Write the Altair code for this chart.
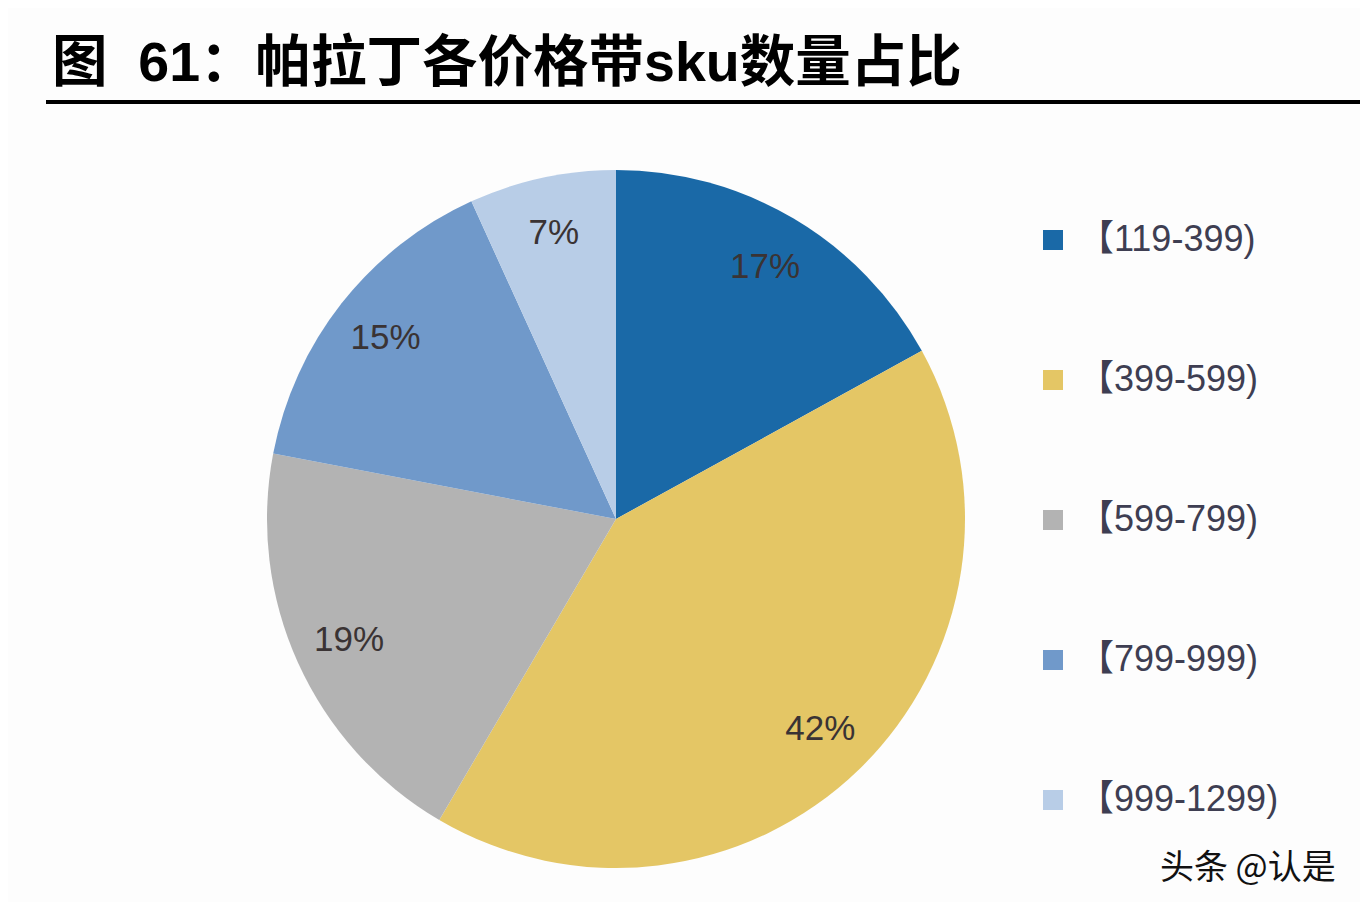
import pandas as pd
import altair as alt

# DATA
# ----
bands = ["【119-399)", "【399-599)", "【599-799)", "【799-999)", "【999-1299)"]
shares = [17.0, 41.45, 19.55, 15.2, 6.8]
share_labels = ["17%", "42%", "19%", "15%", "7%"]
band_colors = ["#1A69A7", "#E4C665", "#B3B3B3", "#7099CA", "#B8CDE7"]

title_text = ["图\u00a0\u00a061：帕拉丁各价格带sku数量占比"]
watermark_text = ["头条 @认是"]

pie_df = pd.DataFrame({
    "band": bands,
    "share": shares,
    "label": share_labels,
    "idx": list(range(len(bands))),
})

# PIE
# ---
cx, cy = 608, 511

base = alt.Chart(pie_df).encode(
    theta=alt.Theta("share:Q", stack=True),
    order=alt.Order("idx:Q"),
)

arcs = base.mark_arc(outerRadius=349, stroke=None).encode(
    x=alt.value(cx),
    y=alt.value(cy),
    color=alt.Color(
        "band:N",
        sort=bands,
        scale=alt.Scale(domain=bands, range=band_colors),
        legend=alt.Legend(
            title=None,
            orient="none",
            legendX=1027,
            legendY=214,
            direction="vertical",
            symbolType="square",
            symbolSize=400,
            symbolStrokeWidth=0,
            labelFontSize=36,
            labelFont="Liberation Sans, Noto Sans CJK SC",
            labelColor="#3E3E52",
            labelOffset=7,
            rowPadding=104,
            padding=0,
            labelLimit=400,
        ),
    ),
)

pct = base.mark_text(
    radius=293, fontSize=35, font="Liberation Sans", color="#3A3334"
).encode(
    x=alt.value(cx),
    y=alt.value(cy),
    text="label:N",
)

# TITLE + RULE + WATERMARK
# ------------------------
title = alt.Chart(pd.DataFrame({"t": title_text})).mark_text(
    align="left", baseline="alphabetic", fontSize=55.5, fontWeight="bold",
    font="Liberation Sans, Noto Sans CJK SC", color="#000000"
).encode(text="t:N", x=alt.value(44), y=alt.value(73))

rule = alt.Chart(pd.DataFrame({"t": title_text})).mark_rule(
    color="#000000", strokeWidth=4
).encode(x=alt.value(38), x2=alt.value(1360), y=alt.value(94))

mark = alt.Chart(pd.DataFrame({"t": watermark_text})).mark_text(
    align="left", baseline="alphabetic", fontSize=34,
    font="Noto Sans CJK SC", color="#111111"
).encode(text="t:N", x=alt.value(1152), y=alt.value(871))

chart = alt.layer(arcs, pct, title, rule, mark).properties(
    width=1352,
    height=894,
    autosize="none",
    padding=0,
    background="#FDFDFD",
).configure_view(stroke=None)

chart.save("out.html", embed_options={"renderer": "svg", "actions": False})
